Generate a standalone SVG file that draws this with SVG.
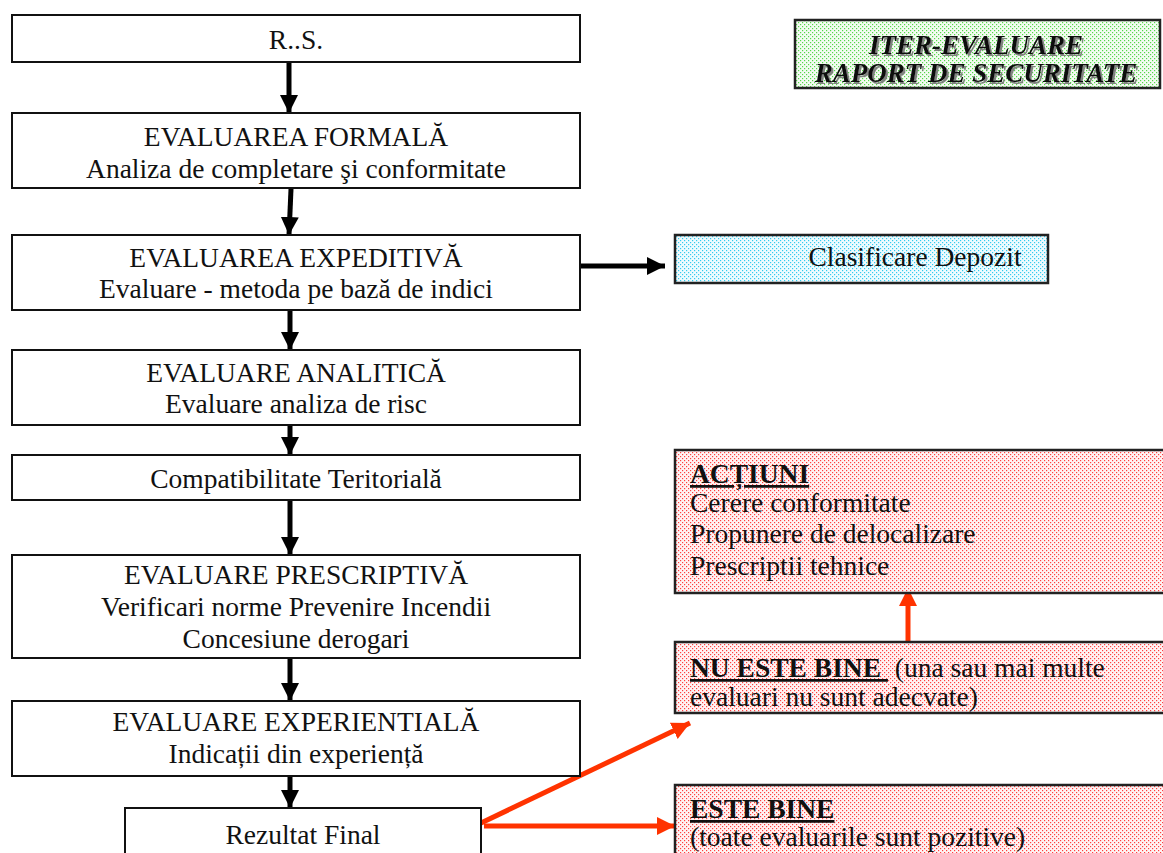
<svg xmlns="http://www.w3.org/2000/svg" width="1163" height="853" viewBox="0 0 1163 853">
<style>
text{font-family:"Liberation Serif","Times New Roman",serif;font-size:27.5px;fill:#111}
.c{text-anchor:middle}
.box{fill:#fff;stroke:#111;stroke-width:2}
.pbox{stroke:#222;stroke-width:2.5}
.b{font-weight:bold}
.u{text-decoration:underline}
.title{font-weight:bold;font-style:italic;text-anchor:middle;font-size:27px}
.blk{stroke:#000;stroke-width:5;fill:none}
.red{stroke:#ff3300;stroke-width:5;fill:none}
</style>
<defs>
<pattern id="pg" width="4" height="4" patternUnits="userSpaceOnUse"><rect width="4" height="4" fill="#f4fcf2"/><rect x="0" y="0" width="1.2" height="1.2" fill="#55d84a"/><rect x="2" y="2" width="1.2" height="1.2" fill="#55d84a"/></pattern>
<pattern id="pc" width="4" height="4" patternUnits="userSpaceOnUse"><rect width="4" height="4" fill="#f0fbff"/><rect x="0" y="0" width="1.2" height="1.2" fill="#33ccee"/><rect x="2" y="2" width="1.2" height="1.2" fill="#33ccee"/></pattern>
<pattern id="pr" width="4" height="4" patternUnits="userSpaceOnUse"><rect width="4" height="4" fill="#fff4f4"/><rect x="0" y="0" width="1.2" height="1.2" fill="#ff4040"/><rect x="2" y="2" width="1.2" height="1.2" fill="#ff4040"/></pattern>
<marker id="ab" markerUnits="userSpaceOnUse" markerWidth="18" markerHeight="20" refX="18" refY="9" orient="auto"><path d="M0,0 L18,9 L0,18 Z" fill="#000"/></marker>
<marker id="ar" markerUnits="userSpaceOnUse" markerWidth="18" markerHeight="20" refX="18" refY="9" orient="auto"><path d="M0,0 L18,9 L0,18 Z" fill="#ff3300"/></marker>
<filter id="sh" x="-5%" y="-20%" width="110%" height="140%"><feDropShadow dx="2" dy="2" stdDeviation="0.6" flood-color="#777" flood-opacity="0.9"/></filter>
</defs>

<g id="connectors">
<line class="blk" x1="289" y1="62" x2="289" y2="113" marker-end="url(#ab)"/>
<line class="blk" x1="291" y1="189" x2="289" y2="235" marker-end="url(#ab)"/>
<line class="blk" x1="580" y1="266" x2="665" y2="266" marker-end="url(#ab)"/>
<line class="blk" x1="290" y1="310" x2="290" y2="350" marker-end="url(#ab)"/>
<line class="blk" x1="290" y1="425" x2="290" y2="455" marker-end="url(#ab)"/>
<line class="blk" x1="290" y1="500" x2="290" y2="555" marker-end="url(#ab)"/>
<line class="blk" x1="290" y1="658" x2="290" y2="701" marker-end="url(#ab)"/>
<line class="blk" x1="290" y1="776" x2="290" y2="808" marker-end="url(#ab)"/>
<line class="red" x1="908" y1="643" x2="908" y2="588" marker-end="url(#ar)"/>
<line class="red" x1="481" y1="823" x2="690" y2="723" marker-end="url(#ar)"/>
<line class="red" x1="484" y1="826" x2="675" y2="826" marker-end="url(#ar)"/>
</g>

<g id="rs"><rect class="box" x="12" y="15" width="568" height="47"/><text class="c" x="296" y="49">R..S.</text></g>
<g id="formala"><rect class="box" x="12" y="113" width="568" height="75"/><text class="c" x="296" y="146">EVALUAREA FORMALĂ</text><text class="c" x="296" y="178">Analiza de completare şi conformitate</text></g>
<g id="expeditiva"><rect class="box" x="12" y="235" width="568" height="75"/><text class="c" x="296" y="267">EVALUAREA EXPEDITIVĂ</text><text class="c" x="296" y="298">Evaluare - metoda pe bază de indici</text></g>
<g id="analitica"><rect class="box" x="12" y="350" width="568" height="75"/><text class="c" x="296" y="382">EVALUARE ANALITICĂ</text><text class="c" x="296" y="413">Evaluare analiza de risc</text></g>
<g id="compat"><rect class="box" x="12" y="455" width="568" height="45"/><text class="c" x="296" y="488">Compatibilitate Teritorială</text></g>
<g id="prescriptiva"><rect class="box" x="12" y="555" width="568" height="103"/><text class="c" x="296" y="584">EVALUARE PRESCRIPTIVĂ</text><text class="c" x="296" y="616">Verificari norme Prevenire Incendii</text><text class="c" x="296" y="648">Concesiune derogari</text></g>
<g id="experientiala"><rect class="box" x="12" y="701" width="568" height="75"/><text class="c" x="296" y="731">EVALUARE EXPERIENTIALĂ</text><text class="c" x="296" y="763">Indicații din experiență</text></g>
<g id="rezultat"><rect class="box" x="125" y="808" width="356" height="60"/><text class="c" x="303" y="844">Rezultat Final</text></g>

<g id="iter"><rect class="pbox" x="795" y="20" width="365" height="68" fill="url(#pg)"/><g filter="url(#sh)"><text class="title" x="976" y="54">ITER-EVALUARE</text><text class="title" x="976" y="82">RAPORT DE SECURITATE</text></g></g>
<g id="clasificare"><rect class="pbox" x="675" y="235" width="373" height="48" fill="url(#pc)"/><text class="c" x="915" y="266">Clasificare Depozit</text></g>
<g id="actiuni"><rect class="pbox" x="675" y="450" width="500" height="143" fill="url(#pr)"/><text x="690" y="483" class="b u">ACȚIUNI</text><text x="690" y="512">Cerere conformitate</text><text x="690" y="543">Propunere de delocalizare</text><text x="690" y="575">Prescriptii tehnice</text></g>
<g id="nubine"><rect class="pbox" x="675" y="642" width="500" height="71" fill="url(#pr)"/><text x="690" y="677"><tspan class="b u">NU ESTE BINE&#160;</tspan>&#160;(una sau mai multe</text><text x="690" y="706">evaluari nu sunt adecvate)</text></g>
<g id="bine"><rect class="pbox" x="675" y="785" width="500" height="80" fill="url(#pr)"/><text x="690" y="818" class="b u">ESTE BINE</text><text x="690" y="846">(toate evaluarile sunt pozitive)</text></g>
</svg>
